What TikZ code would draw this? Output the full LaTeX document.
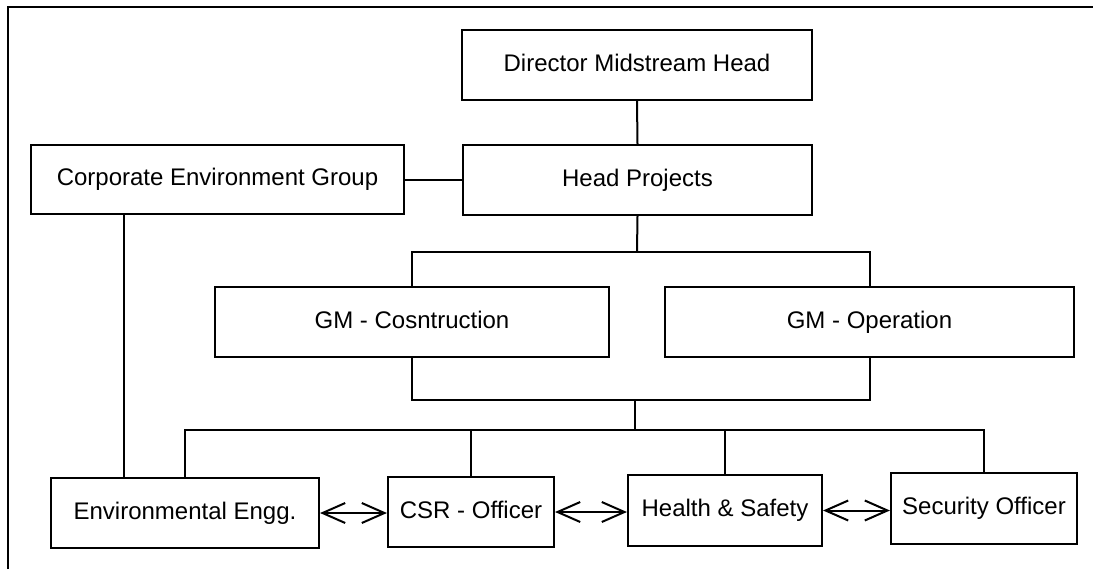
\documentclass[tikz,border=0pt]{standalone}
\usepackage{fontspec}
\setmainfont{Liberation Sans}
\usetikzlibrary{arrows.meta}
\begin{document}
\begin{tikzpicture}[x=0.75pt, y=-0.75pt, >={Straight Barb[length=17pt,width=15pt]}, font=\fontsize{18pt}{21pt}\selectfont,
	box/.style={draw, line width=1.6pt, inner sep=0pt, minimum height=52.5pt, text height=13pt, text depth=4pt},
	link/.style={line width=1.5pt}]
	\def\busA{252} \def\busB{400} \def\busC{430} % bus levels
	\useasboundingbox (0,0) rectangle (1093,569);
	\draw[line width=2.2pt] (8,569)--(8,7)--(1093,7);
	\node[box, minimum width=262.5pt] (dir) at (637,65) {Director Midstream Head};
	\node[box, minimum width=261.75pt] (head) at (637.5,180) {Head Projects};
	\node[box, minimum width=279.75pt, minimum height=51.75pt] (ceg) at (217.5,179.5) {Corporate Environment Group};
	\node[box, minimum width=295.5pt] (gmc) at (412,322) {GM - Cosntruction};
	\node[box, minimum width=306.75pt] (gmo) at (869.5,322) {GM - Operation};
	\node[box, minimum width=201pt] (env) at (185,513) {Environmental Engg.};
	\node[box, minimum width=124.5pt] (csr) at (471,512) {CSR - Officer};
	\node[box, minimum width=145.5pt, minimum height=53.25pt] (hs) at (725,510.5) {Health \& Safety};
	\node[box, minimum width=139.5pt, minimum height=53.25pt] (sec) at (984,508.5) {Security Officer};
	\coordinate (topbus) at (637,\busA);
	\coordinate (midbus) at (635,\busB);
	\coordinate (lowbus) at (635,\busC);
	\coordinate (cegdrop) at (124,214);
	\draw[link] (dir.south) -- (head.north);
	\draw[link] (ceg.east) -- (ceg.east -| head.west);
	\draw[link] (head.south) -- (topbus);
	\draw[link] (gmc.north) |- (topbus) -| (gmo.north);
	\draw[link] (gmc.south) |- (midbus) -| (gmo.south);
	\draw[link] (midbus) -- (lowbus);
	\draw[link] (env.north) |- (lowbus) -| (sec.north);
	\draw[link] (csr.north) -- (csr.north |- lowbus);
	\draw[link] (hs.north) -- (hs.north |- lowbus);
	\draw[link] (cegdrop) -- (cegdrop |- env.north);
	\draw[link, <->] (env.east) -- (env.east -| csr.west);
	\draw[link, <->] (csr.east) -- (csr.east -| hs.west);
	\draw[link, <->] (hs.east) -- (hs.east -| sec.west);
\end{tikzpicture}
\end{document}
